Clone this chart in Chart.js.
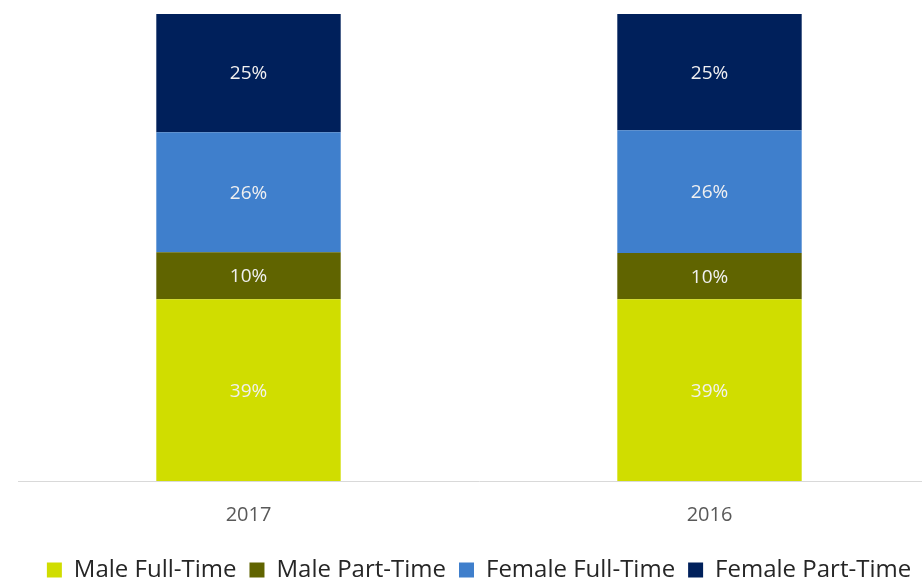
<!DOCTYPE html>
<html>
<head>
<meta charset="utf-8">
<script src="https://cdn.jsdelivr.net/npm/chart.js@4"></script>
<style>
  html, body { margin: 0; padding: 0; background: #fff; }
  #wrap { width: 922px; height: 578px; overflow: hidden; position: relative; }
  #box { width: 940px; height: 578px; }
</style>
</head>
<body>
<div id="wrap"><div id="box"><canvas id="chart"></canvas></div></div>
<script>
Chart.defaults.font.family = "'Open Sans', sans-serif";

// data
const years = ['2017', '2016'];
const seriesNames = ['Male Full-Time', 'Male Part-Time', 'Female Full-Time', 'Female Part-Time'];
const maleFullTime = [38.9, 38.9];
const malePartTime = [10.1, 9.9];
const femaleFullTime = [25.7, 26.3];
const femalePartTime = [25.3, 24.9];
const seriesColors = ['#d0dd00', '#606400', '#3f7fcc', '#00205b'];

const allSeries = [maleFullTime, malePartTime, femaleFullTime, femalePartTime];

// draw the % labels in the middle of each segment
const segmentLabels = {
    id: 'segmentLabels',
    afterDatasetsDraw(chart) {
        const ctx = chart.ctx;
        ctx.save();
        ctx.font = "19px 'Open Sans', sans-serif";
        ctx.fillStyle = '#f0f0f0';
        ctx.textAlign = 'center';
        ctx.textBaseline = 'middle';
        chart.data.datasets.forEach((ds, i) => {
            chart.getDatasetMeta(i).data.forEach((bar, j) => {
                const mid = (bar.y + bar.base) / 2;
                ctx.fillText(Math.round(ds.data[j]) + '%', bar.x, mid + 1);
            });
        });
        ctx.restore();
    }
};

new Chart(document.getElementById('chart'), {
    type: 'bar',
    data: {
        labels: years,
        datasets: allSeries.map((vals, i) => ({
            label: seriesNames[i],
            data: vals,
            backgroundColor: seriesColors[i],
            categoryPercentage: 1,
            barPercentage: 0.4
        }))
    },
    options: {
        responsive: true,
        maintainAspectRatio: false,
        animation: false,
        layout: { padding: { left: 18, top: 14, right: 0, bottom: -14 } },
        scales: {
            x: {
                stacked: true,
                grid: { display: false },
                border: { display: true, color: '#d9d9d9', width: 1 },
                ticks: { color: '#595959', font: { size: 20 }, padding: 14 },
                afterFit: (scale) => { scale.height = 64; }
            },
            y: {
                stacked: true,
                display: false,
                min: 0,
                max: 100
            }
        },
        plugins: {
            legend: {
                position: 'bottom',
                labels: {
                    color: '#262626',
                    font: { size: 24 },
                    boxWidth: 15,
                    boxHeight: 15,
                    padding: 13
                }
            },
            tooltip: { enabled: false }
        }
    },
    plugins: [segmentLabels]
});
</script>
</body>
</html>
